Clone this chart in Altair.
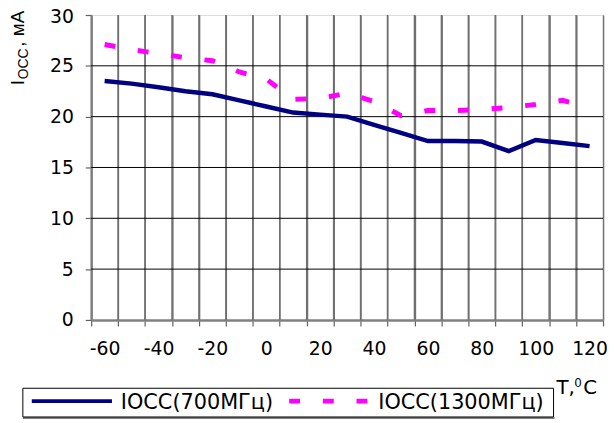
import altair as alt
import pandas as pd

# ---- data ----
temps = [-60, -50, -40, -30, -20, -10, 0, 10, 20, 30, 40, 50, 60, 70, 80, 90, 100, 110, 120]
iocc_700 = [23.5, 23.25, 22.9, 22.5, 22.2, 21.6, 21.0, 20.4, 20.2, 20.0, 19.2, 18.4,
            17.6, 17.6, 17.55, 16.6, 17.7, 17.4, 17.1]
iocc_1300 = [27.1, 26.6, 26.2, 25.8, 25.5, 24.4, 23.7, 21.7, 21.8, 22.3, 21.5, 20.1,
             20.6, 20.6, 20.7, 20.9, 21.2, 21.6, 20.9]
series_names = ["IOCC(700МГц)", "IOCC(1300МГц)"]
x_bounds = [-65 + 10 * i for i in range(20)]          # category boundaries
x_labels = [-60, -40, -20, 0, 20, 40, 60, 80, 100, 120]
y_ticks = [0, 5, 10, 15, 20, 25, 30]

df = pd.DataFrame({
    "T": temps * 2,
    "I": iocc_700 + iocc_1300,
    "s": [series_names[0]] * len(temps) + [series_names[1]] * len(temps),
})
vgrid = pd.DataFrame({"b": x_bounds[1:-1]})
hgrid = pd.DataFrame({"v": y_ticks[1:-1]})

W, H = 517, 308
FONT = "DejaVu Sans"
TFONT = "Liberation Sans"

def xs():
    return alt.Scale(domain=[-65, 125], nice=False, zero=False)

def ys():
    return alt.Scale(domain=[0, 30], nice=False, zero=False)

# axis carrying vertical grid + tick marks at category boundaries (no labels)
grid_axis = alt.Axis(
    orient="bottom", values=x_bounds, title=None, labels=False, domain=False,
    grid=True, gridColor="#707070", gridWidth=1.5,
    ticks=True, tickSize=6, tickColor="#606060", tickWidth=1.2,
)
# axis carrying the labels at category centres
x_axis = alt.Axis(
    orient="bottom", values=x_labels, title=None, grid=False, ticks=False,
    domainColor="#808080", domainWidth=2.5,
    labelExpr="'' + datum.value",
    labelFlush=False, labelOverlap=False, labelBound=False,
    labelFont=FONT, labelFontSize=19, labelColor="#000000", labelPadding=20,
)
y_axis = alt.Axis(
    orient="left", values=y_ticks, title=None, grid=False,
    ticks=True, tickSize=6, tickColor="#606060", tickWidth=1.2,
    domainColor="#808080", domainWidth=2.5,
    labelOffset={"condition": {"test": "datum.value == 30", "value": 2}, "value": 0},
    labelFont=FONT, labelFontSize=19, labelColor="#000000", labelPadding=12,
)

vrules = alt.Chart(vgrid).mark_rule(color="#707070", strokeWidth=1.5).encode(
    x=alt.X("b:Q", scale=xs(), axis=grid_axis)
)
hrules = alt.Chart(hgrid).mark_rule(color="#000000", strokeWidth=1).encode(
    y=alt.Y("v:Q", scale=ys(), axis=None)
)

base = alt.Chart(df)
line700 = base.transform_filter(alt.datum.s == series_names[0]).mark_line(
    color="#000080", strokeWidth=4.5
).encode(
    x=alt.X("T:Q", scale=xs(), axis=x_axis),
    y=alt.Y("I:Q", scale=ys(), axis=y_axis),
)
line1300 = base.transform_filter(alt.datum.s == series_names[1]).mark_line(
    color="#FF00FF", strokeWidth=5, strokeDash=[11, 23]
).encode(
    x=alt.X("T:Q", scale=xs(), axis=None),
    y=alt.Y("I:Q", scale=ys(), axis=None),
)

one = pd.DataFrame({"a": [0]})
def txt(t, x, y, size, font=FONT, angle=0, baseline="alphabetic"):
    return alt.Chart(one).mark_text(
        text=t, font=font, fontSize=size, angle=angle, align="left",
        baseline=baseline, color="#000000"
    ).encode(x=alt.value(x), y=alt.value(y))

# y axis title: I_OCC, мА (rotated)
yt1 = txt("I", -68, 71, 19, TFONT, 270)
yt2 = txt("OCC", -64, 65, 14, TFONT, 270)
yt3 = txt(", мА", -68, 32, 19, TFONT, 270)

# x axis title: T, ⁰C
xt1 = txt("T,", 470, 383, 20)
xt2 = txt("0", 488, 376, 12)
xt3 = txt("C", 497, 383, 20)

# legend
box = alt.Chart(one).mark_rect(fill="white", stroke="#000000", strokeWidth=1).encode(
    x=alt.value(-69), x2=alt.value(467), y=alt.value(377), y2=alt.value(406)
)
shadow = alt.Chart(one).mark_rule(color="#808080", strokeWidth=2).encode(
    x=alt.value(-69), x2=alt.value(468), y=alt.value(407)
)
sym1 = alt.Chart(one).mark_rule(color="#000080", strokeWidth=4).encode(
    x=alt.value(-60), x2=alt.value(21), y=alt.value(390)
)
sym2 = alt.Chart(one).mark_rule(color="#FF00FF", strokeWidth=5, strokeDash=[11, 23]).encode(
    x=alt.value(200), x2=alt.value(281), y=alt.value(390)
)
lt1 = txt(series_names[0], 30, 398, 21)
lt2 = txt(series_names[1], 290, 398, 21)

chart = alt.layer(
    vrules, hrules, line700, line1300, yt1, yt2, yt3, xt1, xt2, xt3,
    shadow, box, sym1, sym2, lt1, lt2
).resolve_scale(
    x="independent", y="independent"
).resolve_axis(
    x="independent", y="independent"
).properties(
    width=W, height=H,
    autosize=alt.AutoSizeParams(type="none"),
    padding={"left": 84, "top": 5, "right": 4, "bottom": 100},
).configure_view(
    stroke="#808080", strokeWidth=2.5
).configure(background="white")

chart.save("out.html", embed_options={"renderer": "svg", "actions": False})
